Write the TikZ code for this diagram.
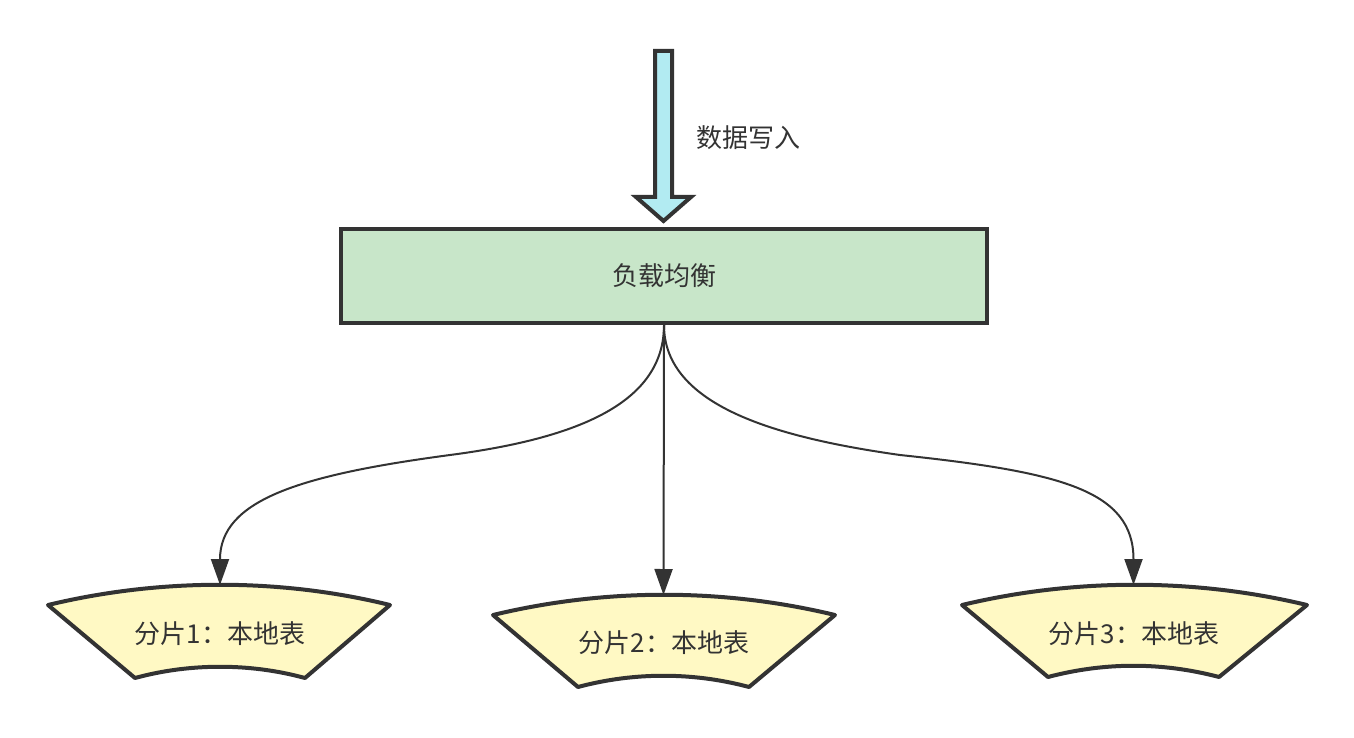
\documentclass[tikz,border=0pt]{standalone}
\usepackage{fontspec}
\newfontfamily\cjk{Noto Sans CJK SC}
\usetikzlibrary{arrows.meta}
\definecolor{ink}{HTML}{333333}
\definecolor{boxgreen}{HTML}{C8E6C9}
\definecolor{shardyellow}{HTML}{FFF9C4}
\definecolor{arrowcyan}{HTML}{B2EBF2}
\tikzset{
  lbl/.style={font=\cjk\fontsize{26}{30}\selectfont, text=ink, inner sep=0pt},
  shardshape/.style={draw=ink, line width=4pt, fill=shardyellow, line join=round},
  conn/.style={draw=ink, line width=2pt, -{Triangle[length=26pt,width=18pt]}},
}
\begin{document}
\begin{tikzpicture}[x=1pt,y=-1pt]
\useasboundingbox (0,0) rectangle (1354,738);
% big input arrow
\path[draw=ink, line width=4pt, fill=arrowcyan, line join=miter]
  (655,51) -- (672,51) -- (672,197) -- (691,197) -- (663.5,221) -- (636,197) -- (655,197) -- cycle;
\node[lbl] (write) at (748,138) {数据写入};
% load balancer
\node[draw=ink, line width=4pt, fill=boxgreen, minimum width=646pt, minimum height=94pt, inner sep=0pt,
      font=\cjk\fontsize{26}{30}\selectfont, text=ink] (lb) at (664,276) {负载均衡};
% shard 1
\path[shardshape] (48,605) .. controls (160,578) and (280,578) .. (390,605)
  -- (305,678) .. controls (250,663) and (190,663) .. (135,678) -- cycle;
\coordinate (s1top) at (220,585);
\node[lbl] (s1) at (220,634) {分片1：本地表};
% shard 2
\path[shardshape] (493,615) .. controls (605,588) and (723,588) .. (835,615)
  -- (749,687) .. controls (693,672) and (634,672) .. (578,687) -- cycle;
\coordinate (s2top) at (663.5,595);
\node[lbl] (s2) at (664,643) {分片2：本地表};
% shard 3
\path[shardshape] (962,605) .. controls (1075,578) and (1194,578) .. (1307,605)
  -- (1219,677) .. controls (1162,662) and (1105,662) .. (1048,677) -- cycle;
\coordinate (s3top) at (1133.5,585);
\node[lbl] (s3) at (1134,634) {分片3：本地表};
% connectors
\coordinate (l1) at (450,455);
\coordinate (r1) at (900,455);
\draw[conn] (lb.south) .. controls +(0,77) and (580,438) .. (l1)
  .. controls (300,475) and (s1top |- 0,500) .. (s1top);
\draw[conn] (lb.south) -- (s2top);
\draw[conn] (lb.south) .. controls +(0,82) and (780,438) .. (r1)
  .. controls (1060,472) and (s3top |- 0,490) .. (s3top);
\end{tikzpicture}
\end{document}
